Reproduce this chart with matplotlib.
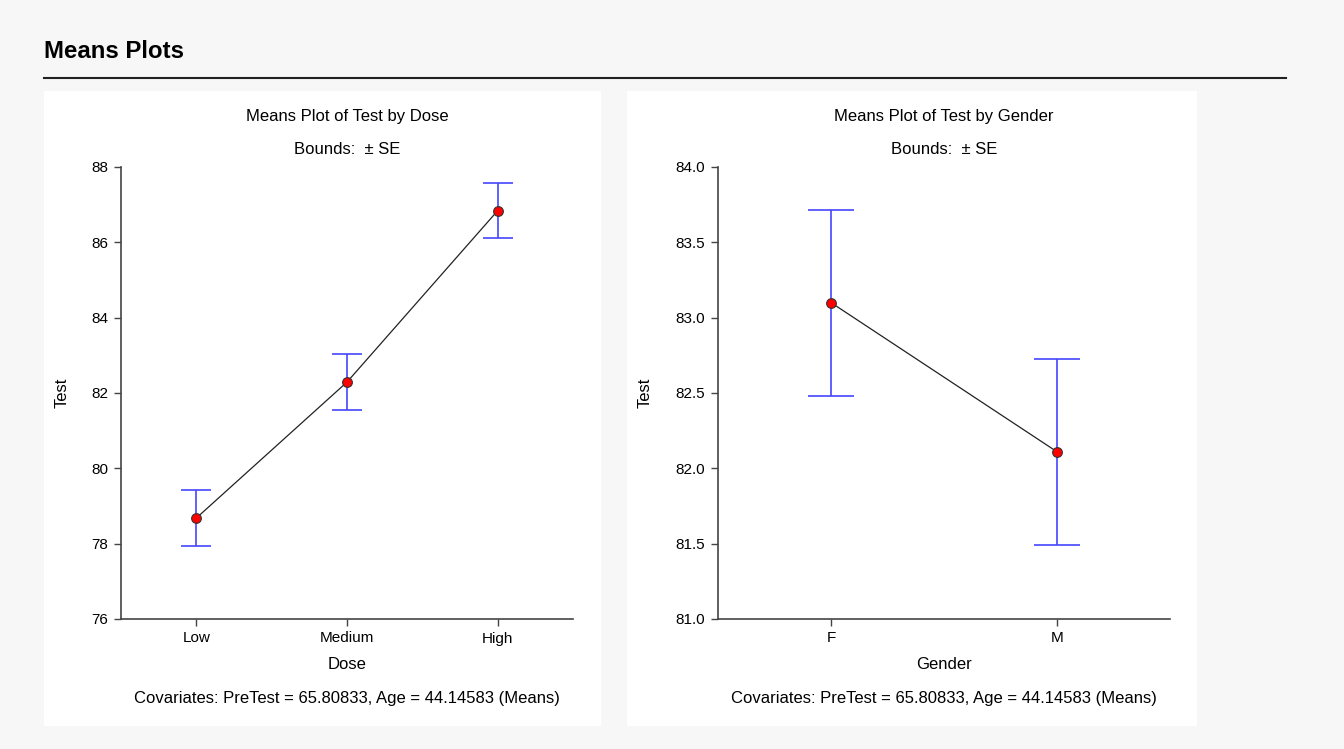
import matplotlib
matplotlib.use('Agg')
import matplotlib.pyplot as plt
from matplotlib.patches import Rectangle
from matplotlib.lines import Line2D

plt.rcParams['font.family'] = ['Liberation Sans', 'DejaVu Sans']

# data
dose_levels = ['Low', 'Medium', 'High']
dose_means = [78.68, 82.29, 86.84]
dose_se = [0.735, 0.735, 0.735]

gender_levels = ['F', 'M']
gender_means = [83.10, 82.11]
gender_se = [0.617, 0.617]

covariate_note = 'Covariates: PreTest = 65.80833, Age = 44.14583 (Means)'

W, H = 1344, 749
fig = plt.figure(figsize=(W / 100, H / 100), dpi=100)
fig.patch.set_facecolor('#f7f7f7')


def px_box(x0, y0, x1, y1):
    # pixel box (top-left origin) -> figure fraction [left, bottom, width, height]
    return [x0 / W, (H - y1) / H, (x1 - x0) / W, (y1 - y0) / H]


# white panels behind each chart
for x0, x1 in [(44, 601), (627, 1197)]:
    l, b, w, h = px_box(x0, 91, x1, 726)
    fig.patches.append(Rectangle((l, b), w, h, transform=fig.transFigure,
                                 facecolor='white', edgecolor='none', zorder=-5))

fig.text(44 / W, 1 - 51 / H, 'Means Plots', fontsize=17.3, fontweight='bold',
         ha='left', va='center')
fig.add_artist(Line2D([44 / W, 1286 / W], [1 - 78 / H, 1 - 78 / H],
                      transform=fig.transFigure, color='#222222', linewidth=1.5))


def means_plot(box, levels, means, se, ylim, yticks, yfmt, xlabel, title, capsize, label_x):
    ax = fig.add_axes(px_box(*box))
    ax.set_zorder(2)
    ax.set_facecolor('white')
    xs = list(range(len(levels)))
    ax.plot(xs, means, color='#222222', linewidth=0.9, zorder=2)
    ax.errorbar(xs, means, yerr=se, fmt='none', ecolor='#4646ff', elinewidth=1.2,
                capsize=capsize, capthick=1.2, zorder=1)
    ax.plot(xs, means, 'o', color='red', markeredgecolor='#333333',
            markeredgewidth=0.8, markersize=7, zorder=3)
    ax.set_xlim(-0.5, len(levels) - 0.5)
    ax.set_ylim(*ylim)
    ax.set_xticks(xs)
    ax.set_xticklabels(levels)
    ax.set_yticks(yticks)
    ax.set_yticklabels([yfmt.format(v) for v in yticks])
    for side in ['top', 'right']:
        ax.spines[side].set_visible(False)
    for side in ['left', 'bottom']:
        ax.spines[side].set_color('#444444')
        ax.spines[side].set_linewidth(1.2)
    ax.tick_params(direction='out', length=5, width=1, color='#444444',
                   labelsize=11, pad=4)
    ax.set_xlabel(xlabel, fontsize=12, labelpad=8)
    ax.set_ylabel('Test', fontsize=12)
    ax.yaxis.set_label_coords((label_x - box[0]) / (box[2] - box[0]), 0.5)
    cx = (box[0] + box[2]) / 2
    fig.text(cx / W, 1 - 117 / H, title, fontsize=12, ha='center', va='center')
    fig.text(cx / W, 1 - 149 / H, 'Bounds:  \u00b1 SE', fontsize=12, ha='center', va='center')
    fig.text(cx / W, 1 - 698 / H, covariate_note, fontsize=12, ha='center', va='center')
    return ax


means_plot((121, 167, 573, 619), dose_levels, dose_means, dose_se,
           (76, 88), [76, 78, 80, 82, 84, 86, 88], '{:.0f}', 'Dose',
           'Means Plot of Test by Dose', 11, 70)
means_plot((718, 167, 1170, 619), gender_levels, gender_means, gender_se,
           (81, 84), [81.0, 81.5, 82.0, 82.5, 83.0, 83.5, 84.0], '{:.1f}', 'Gender',
           'Means Plot of Test by Gender', 16.5, 653)

fig.savefig('out.png', dpi=100, facecolor=fig.get_facecolor())
